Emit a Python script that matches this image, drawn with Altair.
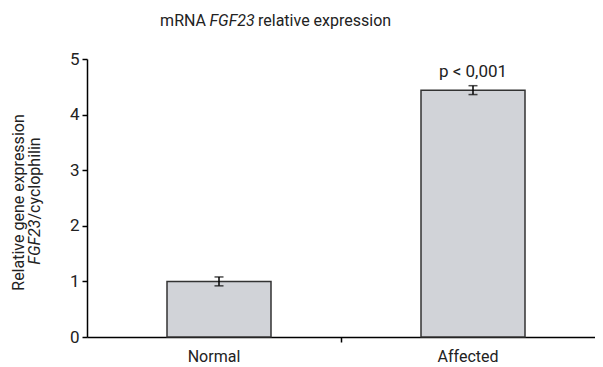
import altair as alt
import pandas as pd

categories = ["Normal", "Affected"]
values = [1.0, 4.44]
errors = [0.08, 0.08]
p_label = "p < 0,001"

FONT = "Roboto, Liberation Sans, sans-serif"
TXT = "#222222"
FS = 16

df = pd.DataFrame({
    "group": categories,
    "value": values,
    "err": errors,
})
df["lo"] = df["value"] - df["err"]
df["hi"] = df["value"] + df["err"]
df["plabel"] = ["", p_label]

W, H = 508, 278

x = alt.X("group:N", sort=categories, title=None,
          scale=alt.Scale(paddingInner=0, paddingOuter=0),
          axis=alt.Axis(labelAngle=0, labelFont=FONT, labelFontSize=FS, labelColor=TXT,
                        domainColor="black", domainWidth=1.5, tickColor="black",
                        tickWidth=1.5, tickSize=5, bandPosition=0, labelPadding=6,
                        tickOpacity={"condition": {"test": "datum.value === 'Normal'", "value": 0}, "value": 1}))
y = alt.Y("value:Q", title=None,
          scale=alt.Scale(domain=[0, 5], nice=False),
          axis=alt.Axis(values=[0, 1, 2, 3, 4, 5], format="d", labelFont=FONT, labelFontSize=FS + 1,
                        labelColor=TXT, domainColor="black", domainWidth=1.5, tickColor="black",
                        tickWidth=1.5, tickSize=5, labelPadding=3, grid=False))

base = alt.Chart(df)

bars = base.mark_bar(size=104, fill="#d1d3d8", stroke="#333333", strokeWidth=1.5, xOffset=5).encode(x=x, y=y)
rule = base.mark_rule(color="black", strokeWidth=1.5, xOffset=5).encode(x=alt.X("group:N", sort=categories), y="lo:Q", y2="hi:Q")
cap_hi = base.mark_tick(color="black", size=9, thickness=1.5, orient="horizontal", xOffset=5).encode(x=alt.X("group:N", sort=categories), y="hi:Q")
cap_lo = base.mark_tick(color="black", size=9, thickness=1.5, orient="horizontal", xOffset=5).encode(x=alt.X("group:N", sort=categories), y="lo:Q")
ptext = base.mark_text(font=FONT, fontSize=FS + 1, color=TXT, baseline="alphabetic", dy=-9, xOffset=5).encode(
    x=alt.X("group:N", sort=categories), y="hi:Q", text="plabel:N")

# title pieces (mixed italic)
t1 = alt.Chart(pd.DataFrame({"t": ["mRNA"]})).mark_text(font=FONT, fontSize=FS, color=TXT, align="right", baseline="alphabetic").encode(
    x=alt.value(119), y=alt.value(-33.5), text="t:N")
t2 = alt.Chart(pd.DataFrame({"t": ["FGF23"]})).mark_text(font=FONT, fontSize=FS, color=TXT, fontStyle="italic", align="left", baseline="alphabetic").encode(
    x=alt.value(122.5), y=alt.value(-33.5), text="t:N")
t3 = alt.Chart(pd.DataFrame({"t": ["relative expression"]})).mark_text(font=FONT, fontSize=FS, color=TXT, align="left", baseline="alphabetic").encode(
    x=alt.value(171), y=alt.value(-33.5), text="t:N")

# y-axis title pieces
y1 = alt.Chart(pd.DataFrame({"t": ["Relative gene expression"]})).mark_text(font=FONT, fontSize=FS, color=TXT, angle=270, align="center", baseline="alphabetic").encode(
    x=alt.value(-63), y=alt.value(143.5), text="t:N")
y2a = alt.Chart(pd.DataFrame({"t": ["FGF23"]})).mark_text(font=FONT, fontSize=FS, color=TXT, fontStyle="italic", angle=270, align="right", baseline="alphabetic").encode(
    x=alt.value(-47), y=alt.value(160.5), text="t:N")
y2b = alt.Chart(pd.DataFrame({"t": ["/cyclophilin"]})).mark_text(font=FONT, fontSize=FS, color=TXT, angle=270, align="left", baseline="alphabetic").encode(
    x=alt.value(-47), y=alt.value(160.5), text="t:N")

chart = alt.layer(bars, rule, cap_hi, cap_lo, ptext, t1, t2, t3, y1, y2a, y2b).properties(
    width=W, height=H,
    autosize=alt.AutoSizeParams(type="none"),
    padding={"left": 79, "top": 51, "right": 0, "bottom": 28},
    background="white",
).configure_view(stroke=None)

chart.save("out.html", embed_options={"renderer": "svg", "actions": False})
